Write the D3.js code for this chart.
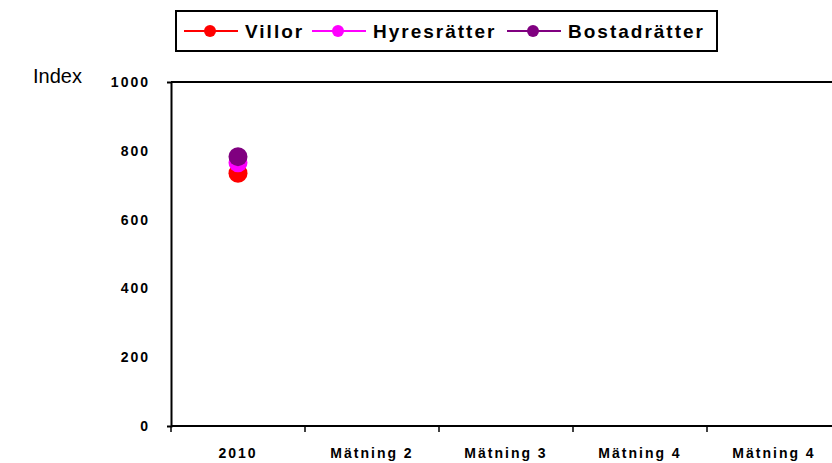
<!DOCTYPE html>
<html>
<head>
<meta charset="utf-8">
<script src="https://cdnjs.cloudflare.com/ajax/libs/d3/7.8.5/d3.min.js"></script>
<style>
  body { margin: 0; background: #fff; }
  svg { display: block; font-family: Arial, "Liberation Sans", sans-serif; }
</style>
</head>
<body>
<div id="chart"></div>
<script>
// categories on x axis
var categories = ["2010", "Mätning 2", "Mätning 3", "Mätning 4", "Mätning 4 "];
var tickLabels = ["2010", "Mätning 2", "Mätning 3", "Mätning 4", "Mätning 4"];
var yTicks = [0, 200, 400, 600, 800, 1000];

// series (only the first measurement has values)
var seriesNames = ["Villor", "Hyresrätter", "Bostadrätter"];
var seriesColors = ["#ff0000", "#ff00ff", "#800080"];
var villor = [735, null, null, null, null];
var hyresratter = [765, null, null, null, null];
var bostadratter = [783, null, null, null, null];
var seriesValues = [villor, hyresratter, bostadratter];

var W = 832, H = 463;
var margin = { top: 82, left: 171, bottom: 37 },
    plotW = 670,
    plotH = H - margin.top - margin.bottom;

var svg = d3.select("#chart")
  .append("svg")
    .attr("width", W)
    .attr("height", H);

var g = svg.append("g")
  .attr("transform", "translate(" + margin.left + "," + margin.top + ")");

var x = d3.scaleBand()
  .domain(categories)
  .range([0, plotW])
  .padding(0);

var y = d3.scaleLinear()
  .domain([0, 1000])
  .range([plotH, 0]);

// top frame line
g.append("line")
  .attr("x1", 0).attr("x2", plotW)
  .attr("y1", y(1000)).attr("y2", y(1000))
  .attr("stroke", "#000")
  .attr("stroke-width", 2);

// y axis
var yAxis = g.append("g")
  .call(d3.axisLeft(y).tickValues(yTicks).tickFormat(d3.format("d"))
    .tickSizeInner(0).tickSizeOuter(4).tickPadding(21));
yAxis.select(".domain").attr("stroke-width", 2);
yAxis.selectAll("text")
  .style("font-size", "14px")
  .style("font-weight", "bold")
  .style("letter-spacing", "2px")
  .style("font-family", "Arial, 'Liberation Sans', sans-serif")
  .attr("fill", "#000");

// x axis: line, ticks at band edges, labels at band centres
var xg = g.append("g").attr("transform", "translate(0," + plotH + ")");
xg.append("line")
  .attr("x1", 0).attr("x2", plotW)
  .attr("stroke", "#000").attr("stroke-width", 2);
xg.selectAll(".tk")
  .data(categories)
  .enter()
  .append("line")
    .attr("class", "tk")
    .attr("x1", function (d) { return x(d); })
    .attr("x2", function (d) { return x(d); })
    .attr("y1", 0).attr("y2", 6)
    .attr("stroke", "#000").attr("stroke-width", 1.5);
xg.selectAll(".lbl")
  .data(categories)
  .enter()
  .append("text")
    .attr("class", "lbl")
    .attr("x", function (d) { return x(d) + x.bandwidth() / 2; })
    .attr("y", 32)
    .attr("text-anchor", "middle")
    .style("font-size", "14px")
    .style("font-weight", "bold")
    .style("letter-spacing", "2px")
    .text(function (d, i) { return tickLabels[i]; });

// y title
svg.append("text")
  .attr("x", 33)
  .attr("y", 83)
  .attr("font-size", 20)
  .text("Index");

// points
seriesValues.forEach(function (vals, si) {
  g.selectAll(".pt" + si)
    .data(vals.map(function (v, i) { return { c: categories[i], v: v }; })
      .filter(function (d) { return d.v != null; }))
    .enter()
    .append("circle")
      .attr("cx", function (d) { return x(d.c) + x.bandwidth() / 2; })
      .attr("cy", function (d) { return y(d.v); })
      .attr("r", 9.5)
      .attr("fill", seriesColors[si]);
});

// legend
var legend = svg.append("g");
legend.append("rect")
  .attr("x", 176).attr("y", 11)
  .attr("width", 541).attr("height", 40)
  .attr("fill", "#fff")
  .attr("stroke", "#000")
  .attr("stroke-width", 2);

var legendX = [184, 312, 507];
seriesNames.forEach(function (name, i) {
  var lx = legendX[i];
  legend.append("line")
    .attr("x1", lx).attr("x2", lx + 54)
    .attr("y1", 31).attr("y2", 31)
    .attr("stroke", seriesColors[i]).attr("stroke-width", 2);
  legend.append("circle")
    .attr("cx", lx + 26).attr("cy", 31).attr("r", 6)
    .attr("fill", seriesColors[i]);
  legend.append("text")
    .attr("x", lx + 61)
    .attr("y", 38)
    .attr("font-size", 19)
    .attr("font-weight", "bold")
    .attr("letter-spacing", "2px")
    .text(name);
});
</script>
</body>
</html>
